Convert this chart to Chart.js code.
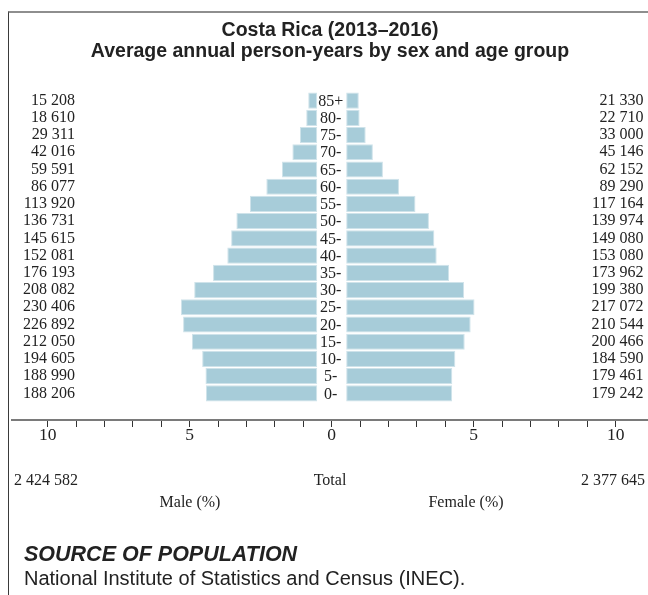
<!DOCTYPE html>
<html>
<head>
<meta charset="utf-8">
<script src="https://cdn.jsdelivr.net/npm/chart.js@4.4.1/dist/chart.umd.min.js"></script>
<style>
  body { margin: 0; background: #fff; }
  #wrap { position: relative; width: 648px; height: 595px; overflow: hidden; color: #222; }
  #frame { position: absolute; left: 8px; top: 11px; right: -4px; bottom: -4px; border-top: 2px solid #8e8e8e; border-left: 1px solid #3a3a3a; }
  canvas { position: absolute; left: 0; top: 0; }
  .t { position: absolute; white-space: nowrap; line-height: 1; }
  .sans { font-family: "Liberation Sans", Arial, sans-serif; }
  .serif { font-family: "Liberation Serif", "Times New Roman", serif; font-size: 16px; }
</style>
</head>
<body>
<div id="wrap">
  <div id="frame"></div>
  <canvas id="pyramid" width="648" height="595"></canvas>

  <div class="t sans" style="left:12px; width:636px; top:19px; text-align:center; font-weight:bold; font-size:19.5px; line-height:21px;">
    Costa Rica (2013–2016)<br>Average annual person-years by sex and age group
  </div>

  <div class="t serif" id="maleTotal" style="left:14px; top:472px;"></div>
  <div class="t serif" style="left:280px; width:100px; text-align:center; top:472px;">Total</div>
  <div class="t serif" id="femaleTotal" style="right:3px; top:472px;"></div>
  <div class="t serif" style="left:140px; width:100px; text-align:center; top:494px;">Male (%)</div>
  <div class="t serif" style="left:416px; width:100px; text-align:center; top:494px;">Female (%)</div>

  <div class="t sans" style="left:24px; top:544px; font-size:21.5px; font-weight:bold; font-style:italic;">SOURCE OF POPULATION</div>
  <div class="t sans" style="left:24px; top:568px; font-size:20px;">National Institute of Statistics and Census (INEC).</div>
</div>

<script>
// ----- Data -----
const ageGroups = ["85+", "80-", "75-", "70-", "65-", "60-", "55-", "50-", "45-", "40-",
  "35-", "30-", "25-", "20-", "15-", "10-", "5-", "0-"];
const maleCounts = [15208, 18610, 29311, 42016, 59591, 86077, 113920, 136731, 145615, 152081,
  176193, 208082, 230406, 226892, 212050, 194605, 188990, 188206];
const femaleCounts = [21330, 22710, 33000, 45146, 62152, 89290, 117164, 139974, 149080, 153080,
  173962, 199380, 217072, 210544, 200466, 184590, 179461, 179242];
const maleTotal = 2424582;
const femaleTotal = 2377645;
const xTickValues = [-10, -9, -8, -7, -6, -5, -4, -3, -2, -1, 0, 1, 2, 3, 4, 5, 6, 7, 8, 9, 10];

// ----- Helpers -----
const GAP = 0.51; // half-width of the gap for age labels, in axis units
const grandTotal = maleTotal + femaleTotal;
const pct = n => n / grandTotal * 100;
const fmt = n => String(n).replace(/\B(?=(\d{3})+(?!\d))/g, " ");

document.getElementById("maleTotal").textContent = fmt(maleTotal);
document.getElementById("femaleTotal").textContent = fmt(femaleTotal);

const serif = '"Liberation Serif", "Times New Roman", serif';
const barColor = "#a7ccd9";
const barEdge = "#cfe3ea";

// age labels centred in the gap between the two halves
const ageLabels = {
  id: "ageLabels",
  afterDatasetsDraw(chart) {
    const { ctx, scales: { x, y } } = chart;
    ctx.save();
    ctx.font = "16px " + serif;
    ctx.fillStyle = "#222";
    ctx.textAlign = "center";
    ctx.textBaseline = "middle";
    ageGroups.forEach((label, i) => {
      ctx.fillText(label, x.getPixelForValue(0) - 1, y.getPixelForValue(i) + 1);
    });
    ctx.restore();
  }
};

const countAxis = (labels, xPos) => ({
  type: "category",
  axis: "y",
  labels: labels,
  offset: true,
  position: { x: xPos },
  grid: { display: false, drawTicks: false },
  border: { display: false },
  ticks: {
    autoSkip: false,
    padding: 0,
    color: "#222",
    font: { family: serif, size: 16, lineHeight: 1 }
  }
});

new Chart(document.getElementById("pyramid"), {
  type: "bar",
  data: {
    labels: ageGroups,
    datasets: [
      {
        label: "Male",
        data: maleCounts.map(n => [-(GAP + pct(n)), -GAP]),
        backgroundColor: barColor,
        borderColor: barEdge,
        borderWidth: 1,
        borderSkipped: false,
        grouped: false,
        barPercentage: 0.94,
        categoryPercentage: 1
      },
      {
        label: "Female",
        data: femaleCounts.map(n => [GAP, GAP + pct(n)]),
        backgroundColor: barColor,
        borderColor: barEdge,
        borderWidth: 1,
        borderSkipped: false,
        grouped: false,
        barPercentage: 0.94,
        categoryPercentage: 1
      }
    ]
  },
  options: {
    indexAxis: "y",
    responsive: false,
    animation: false,
    devicePixelRatio: 1,
    layout: { padding: { left: 12, right: 0, top: 92, bottom: 193 } },
    plugins: {
      legend: { display: false },
      tooltip: { enabled: false }
    },
    scales: {
      x: {
        type: "linear",
        min: -11.26,
        max: 11.14,
        position: { y: ageGroups.length + 0.55 },
        afterBuildTicks: scale => {
          scale.ticks = xTickValues.map(v => ({ value: v }));
        },
        grid: { drawOnChartArea: false, drawTicks: true, tickLength: 6, color: "#333", lineWidth: 1 },
        border: { display: true, color: "#7a7a7a", width: 2 },
        ticks: {
          autoSkip: false,
          maxRotation: 0,
          padding: 1,
          color: "#222",
          font: { family: serif, size: 17.5, lineHeight: 1 },
          callback: v => (v % 5 === 0 ? String(Math.abs(v)) : "")
        }
      },
      y: {
        type: "category",
        display: false,
        offset: true
      },
      yMale: countAxis(maleCounts.map(fmt), -9.04),
      yFemale: countAxis(femaleCounts.map(fmt), 10.98)
    }
  },
  plugins: [ageLabels]
});
</script>
</body>
</html>
